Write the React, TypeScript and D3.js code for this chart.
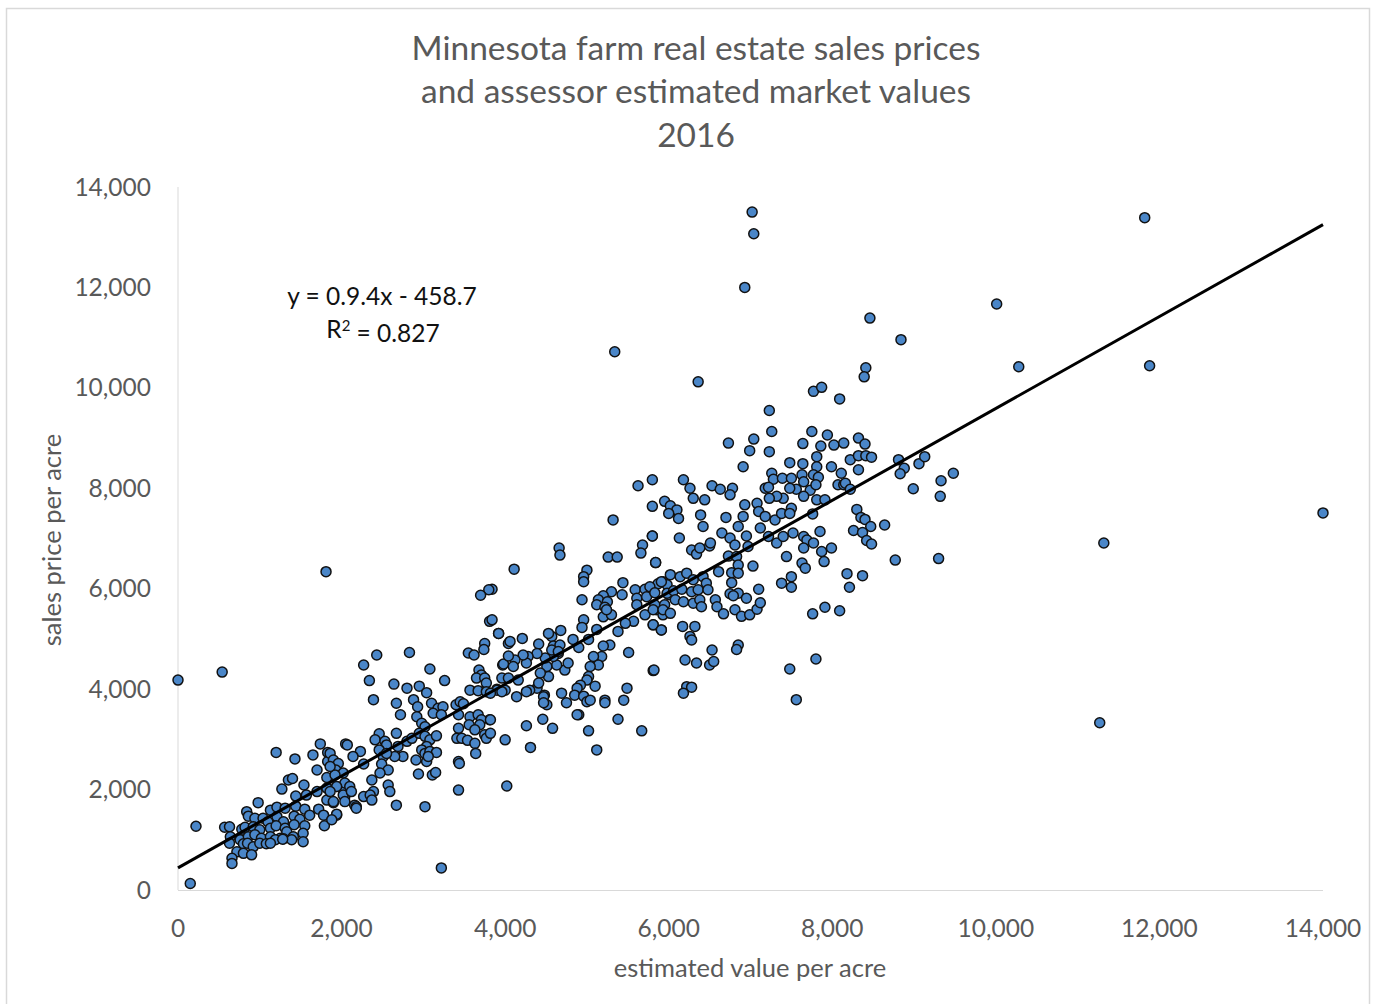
import React from 'react';
import * as d3 from 'd3';

// estimated value per acre, sales price per acre (both $)
const outliers: [number, number][] = [
  [0, 4180], [540, 4340], [220, 1270], [150, 130], [1810, 6340], [3220, 440], [5340, 10720],
  [7020, 13500], [7040, 13070], [6930, 12000], [6360, 10120], [8460, 11390], [8840, 10960],
  [8410, 10400], [8390, 10220], [11820, 13390], [10010, 11670], [10280, 10420], [11880, 10440],
  [14000, 7510], [11320, 6910], [11270, 3330], [3800, 5980], [3700, 5870], [5625, 8050],
];

const lowCluster: [number, number][] = [
  [1200, 2740], [1430, 2610], [1650, 2690], [1740, 2910], [1830, 2740], [2050, 2910], [1700, 2390],
  [1830, 2560], [1930, 2360], [1820, 2240], [1350, 2190], [1400, 2220], [1270, 2010], [1540, 2090],
  [1440, 1870], [1570, 1890], [1700, 1960], [1820, 2030], [1940, 2060], [2020, 1990], [2040, 1860],
  [980, 1740], [840, 1560], [860, 1470], [940, 1430], [1130, 1590], [1210, 1650], [1310, 1630],
  [1440, 1670], [1550, 1610], [1040, 1430], [1100, 1360], [1210, 1460], [1290, 1360], [1420, 1470],
  [1490, 1410], [1610, 1490], [1720, 1610], [1820, 1790], [1900, 1740], [1780, 1490], [1940, 1490],
  [570, 1250], [630, 1260], [780, 1210], [820, 1250], [920, 1260], [1000, 1200], [1130, 1230],
  [1200, 1280], [1310, 1230], [1420, 1300], [1550, 1280], [1790, 1280], [640, 1060], [630, 930],
  [760, 1000], [860, 1060], [940, 1100], [1020, 1030], [1130, 1060], [1250, 1030], [1330, 1160],
  [1410, 1060], [1530, 1130], [800, 920], [850, 930], [920, 860], [1000, 930], [1080, 920],
  [1190, 1000], [1290, 1020], [1390, 1000], [720, 760], [800, 730], [900, 700], [1130, 930],
  [660, 630], [660, 530], [1280, 1010], [1530, 960],
];

const midLow: [number, number][] = [
  [3810, 5350], [3920, 5110], [4040, 4910], [3750, 4910], [3740, 4790], [3550, 4720], [3620, 4680],
  [2430, 4680], [2830, 4730], [2270, 4480], [3080, 4400], [2340, 4170], [2640, 4100], [2800, 4020],
  [2950, 4060], [3040, 3930], [3260, 4170], [3970, 4480], [3680, 4380], [3710, 4280], [3650, 4220],
  [3750, 4220], [3770, 4120], [4000, 3980], [3960, 4220], [3570, 3980], [3670, 3970], [3770, 3950],
  [3900, 4000], [2390, 3790], [2670, 3720], [2720, 3490], [2880, 3790], [2930, 3650], [3100, 3720],
  [3180, 3620], [3120, 3520], [3240, 3650], [3220, 3490], [2920, 3450], [2980, 3320], [3020, 3250],
  [3400, 3690], [3450, 3750], [3490, 3710], [3430, 3490], [3570, 3450], [3670, 3490], [3810, 3390],
  [3710, 3390], [3690, 3290], [3560, 3290], [3630, 3190], [3430, 3220], [3410, 3020], [3470, 3020],
  [3540, 2980], [3630, 2920], [3750, 3090], [3770, 3020], [3640, 2720], [3430, 2560], [3440, 2520],
  [3430, 1990], [4000, 2990], [4020, 2070], [2460, 3110], [2410, 2990], [2530, 2960], [2550, 2890],
  [2670, 3120], [2690, 2860], [2800, 2960], [2750, 2660], [2650, 2660], [2860, 3020], [2950, 3120],
  [3020, 3060], [3080, 2990], [3040, 2860], [2980, 2790], [3020, 2720], [3080, 2760], [3160, 3070],
  [3160, 2740], [2910, 2590], [3040, 2560], [3060, 2660], [2940, 2310], [3110, 2290], [3150, 2340],
  [2670, 1690], [3020, 1660], [2070, 2890], [2230, 2760], [2140, 2660], [2270, 2510], [2460, 2790],
  [2510, 2660], [2550, 2720], [2490, 2510], [2570, 2390], [2470, 2330], [1860, 2720], [1900, 2590],
  [1960, 2520], [1930, 2390], [2020, 2330], [1920, 2290], [1860, 2460], [2040, 2130], [1940, 2060],
  [2100, 2060], [1860, 1960], [2020, 1890], [2120, 1960], [2370, 2190], [2270, 1860], [2390, 1960],
  [2570, 2090], [2590, 1960], [1900, 1760], [2040, 1760], [2160, 1690], [2180, 1660], [2350, 1890],
  [2370, 1790], [1940, 1510], [2180, 1630], [1880, 1400],
];

const midHigh: [number, number][] = [
  [5320, 7370], [5800, 7050], [5680, 6870], [5660, 6710], [5260, 6630], [5370, 6630], [4660, 6810],
  [4670, 6670], [4110, 6390], [5840, 6520], [5000, 6370], [4960, 6240], [4960, 6140], [3840, 5990],
  [5440, 6120], [5300, 5940], [5200, 5860], [5140, 5780], [5120, 5680], [5250, 5740], [5220, 5630],
  [5430, 5880], [5590, 5980], [5710, 5990], [5810, 5980], [5930, 6140], [5980, 6080], [5870, 6100],
  [5610, 5810], [5730, 5840], [5610, 5680], [5850, 5580], [5930, 5480], [5830, 5680], [5950, 5680],
  [6000, 5880], [4940, 5780], [5200, 5440], [5300, 5480], [5240, 5580], [5570, 5350], [5470, 5310],
  [5380, 5150], [5710, 5480], [5810, 5280], [5910, 5180], [4960, 5380], [4940, 5230], [5120, 5190],
  [5020, 4990], [4830, 4990], [4900, 4830], [4680, 5170], [4570, 5050], [4530, 5110], [4590, 4860],
  [4670, 4880], [4650, 4710], [5280, 4880], [5200, 4860], [5180, 4650], [5080, 4650], [5140, 4480],
  [5040, 4450], [5020, 4250], [5000, 4180], [5100, 4060], [4920, 4080], [4880, 4020], [4850, 3880],
  [4960, 3860], [5000, 3750], [5040, 3780], [5510, 4730], [5810, 4370], [5490, 4020], [5450, 3780],
  [5220, 3780], [5220, 3730], [5380, 3400], [5670, 3170], [5120, 2790], [5020, 3170], [4900, 3490],
  [4750, 3730], [4690, 3920], [4730, 4380], [4770, 4520], [4630, 4480], [4510, 4450], [4530, 4250],
  [4590, 4650], [4490, 4620], [4410, 4900], [4570, 4780], [4650, 4750], [4390, 4710], [4280, 4650],
  [4260, 4520], [4220, 4680], [4430, 4320], [4480, 3880], [4390, 4020], [4410, 4120], [4470, 3850],
  [4510, 3690], [4470, 3730], [4300, 3980], [4260, 3950], [4140, 3850], [4160, 4180], [4040, 4220],
  [4060, 4950], [4210, 5010], [3920, 5110], [3840, 5380], [3980, 4500], [4120, 4580], [4100, 4450],
  [4040, 4660], [3900, 3980], [3960, 3950], [3820, 3920], [3820, 3390], [3820, 3120], [4260, 3270],
  [4310, 2840], [4460, 3400], [4580, 3220], [4880, 3490],
];

const upper: [number, number][] = [
  [7230, 9550], [7260, 9130], [7230, 8730], [7750, 9130], [7640, 8890], [6730, 8900], [7040, 8980],
  [6990, 8750], [6910, 8430], [7480, 8510], [7640, 8490], [7810, 8630], [7810, 8430], [7770, 8270],
  [7260, 8300], [7280, 8180], [7390, 8200], [7500, 8200], [7630, 8270], [7650, 8130], [7730, 7960],
  [7560, 7980], [7480, 8000], [7180, 8000], [7220, 8020], [7400, 7800], [7320, 7840], [7230, 7800],
  [7650, 7840], [7810, 7770], [6780, 8000], [6750, 7870], [6530, 8050], [6630, 7980], [6180, 8170],
  [6260, 8000], [6300, 7800], [6440, 7770], [5800, 8170], [5950, 7740], [6020, 7650], [6100, 7570],
  [6120, 7400], [6000, 7500], [5800, 7640], [6390, 7470], [6420, 7240], [6700, 7420], [6930, 7670],
  [6910, 7440], [7080, 7700], [7100, 7540], [7180, 7440], [7300, 7370], [7380, 7500], [7500, 7600],
  [7480, 7500], [6850, 7240], [6650, 7110], [6750, 7010], [6810, 6870], [6950, 7050], [6970, 6840],
  [7120, 7210], [7220, 7040], [7320, 6910], [7400, 7040], [7520, 7110], [7650, 7040], [7690, 6970],
  [7770, 6910], [7650, 6810], [5800, 7050], [6130, 7010], [6280, 6770], [6340, 6690], [6380, 6810],
  [6500, 6850], [6510, 6910], [5840, 6520], [6730, 6650], [6830, 6640], [6850, 6470], [6770, 6320],
  [6850, 6310], [6770, 6120], [7030, 6450], [6610, 6340], [7440, 6640], [7630, 6510], [7670, 6410],
  [7380, 6110], [7500, 6240], [7500, 6030], [5770, 6040], [5910, 6140], [6020, 6280], [6140, 6240],
  [6220, 6310], [6300, 6180], [6420, 6240], [6460, 6110], [5830, 5920], [5980, 5910], [6060, 5960],
  [6160, 5990], [6280, 5940], [6360, 5980], [6480, 5980], [6750, 5900], [6850, 5910], [6950, 5810],
  [7100, 5990], [5810, 5580], [5930, 5580], [6020, 5510], [6080, 5780], [6180, 5740], [6300, 5710],
  [6380, 5780], [6400, 5640], [6570, 5780], [6590, 5640], [6670, 5500], [6790, 5860], [6810, 5580],
  [6890, 5450], [6990, 5480], [7080, 5590], [7120, 5720], [5810, 5280], [5910, 5180], [6170, 5250],
  [6320, 5250], [6260, 5050], [6280, 4980], [6530, 4780], [6850, 4880], [6830, 4790], [7760, 5500],
  [7800, 4600], [5820, 4380], [6200, 4580], [6340, 4520], [6500, 4480], [6550, 4550], [7480, 4400],
  [6220, 4050], [6280, 4040], [6180, 3920], [7560, 3790],
];

const rightCluster: [number, number][] = [
  [7770, 9930], [7870, 10010], [8090, 9780], [7940, 9060], [7860, 8840], [8020, 8860], [8140, 8900],
  [8320, 9000], [8400, 8880], [8220, 8570], [8320, 8650], [8410, 8650], [8480, 8620], [7990, 8430],
  [8320, 8370], [7830, 8220], [8110, 8300], [7800, 8070], [8070, 8070], [8140, 8070], [8160, 8100],
  [8220, 7980], [7910, 7770], [7760, 7490], [8300, 7580], [8350, 7420], [8400, 7380], [8470, 7240],
  [8640, 7270], [8260, 7160], [8370, 7120], [8420, 6960], [8480, 6890], [7850, 7140], [7870, 6740],
  [7990, 6810], [7900, 6540], [8180, 6300], [8370, 6260], [8210, 6030], [7910, 5630], [8090, 5560],
  [8770, 6570], [8810, 8570], [8880, 8400], [8830, 8290], [8990, 7990], [9060, 8490], [9130, 8630],
  [9330, 8150], [9320, 7840], [9480, 8300], [9300, 6600],
];

// trendline as drawn on the chart
const trendSlope = 0.915;
const trendIntercept = 440;
const ticks = [0, 2000, 4000, 6000, 8000, 10000, 12000, 14000];
const titleLines = [
  'Minnesota farm real estate sales prices',
  'and assessor estimated market values',
  '2016',
];

const App = () => {
  const width = 1390, height = 1004;
  const left = 178, right = 1323, top = 187, bottom = 890;
  const x = d3.scaleLinear().domain([0, 14000]).range([left, right]);
  const y = d3.scaleLinear().domain([0, 14000]).range([bottom, top]);
  const points = [...lowCluster, ...midLow, ...midHigh, ...upper, ...rightCluster, ...outliers];
  const line = d3.line<number>().x(d => x(d)).y(d => y(trendSlope * d + trendIntercept));
  const fmt = d3.format(',');
  const font = 'Lato, "Open Sans", sans-serif';
  const gray = '#595959';

  return (
    <svg width={width} height={height} style={{ position: 'absolute', left: 0, top: 0 }} fontFamily={font}>
      <rect x={0} y={0} width={width} height={height} fill="#fff" />
      <rect x={6.5} y={8.5} width={1363} height={1000} fill="none" stroke="#d9d9d9" strokeWidth={1.5} />
      {titleLines.map((t, i) => (
        <text key={i} x={696} y={48 + i * 43.5} dy="0.35em" textAnchor="middle" fontSize={33.5} fill={gray}>{t}</text>
      ))}
      <line x1={left} x2={left} y1={top} y2={bottom} stroke="#d9d9d9" strokeWidth={1} />
      <line x1={left} x2={right} y1={bottom + 0.5} y2={bottom + 0.5} stroke="#d9d9d9" strokeWidth={1} />
      {ticks.map(t => (
        <text key={'y' + t} x={151} y={y(t)} dy="0.35em" textAnchor="end" fontSize={24.5} fill={gray}>{fmt(t)}</text>
      ))}
      {ticks.map(t => (
        <text key={'x' + t} x={x(t)} y={928} dy="0.35em" textAnchor="middle" fontSize={24.5} fill={gray}>{fmt(t)}</text>
      ))}
      <text x={750} y={968} dy="0.35em" textAnchor="middle" fontSize={25.5} fill={gray}>estimated value per acre</text>
      <text transform={`translate(52, 540) rotate(-90)`} dy="0.35em" textAnchor="middle" fontSize={25.5} fill={gray}>sales price per acre</text>
      <g>
        {points.map((p, i) => (
          <circle key={i} cx={x(p[0])} cy={y(p[1])} r={5} fill="#4a86c8" stroke="#111" strokeWidth={1.5} />
        ))}
      </g>
      <path d={line([0, 14000]) || ''} fill="none" stroke="#000" strokeWidth={3} />
      <text x={382} y={296} dy="0.35em" textAnchor="middle" fontSize={24.5} fill="#111">y = 0.9.4x - 458.7</text>
      <text x={383} y={329} dy="0.35em" textAnchor="middle" fontSize={24.5} fill="#111">
        R<tspan dy="-0.45em" fontSize={15}>2</tspan><tspan dy="0.45em"> = 0.827</tspan>
      </text>
    </svg>
  );
};

export default App;
